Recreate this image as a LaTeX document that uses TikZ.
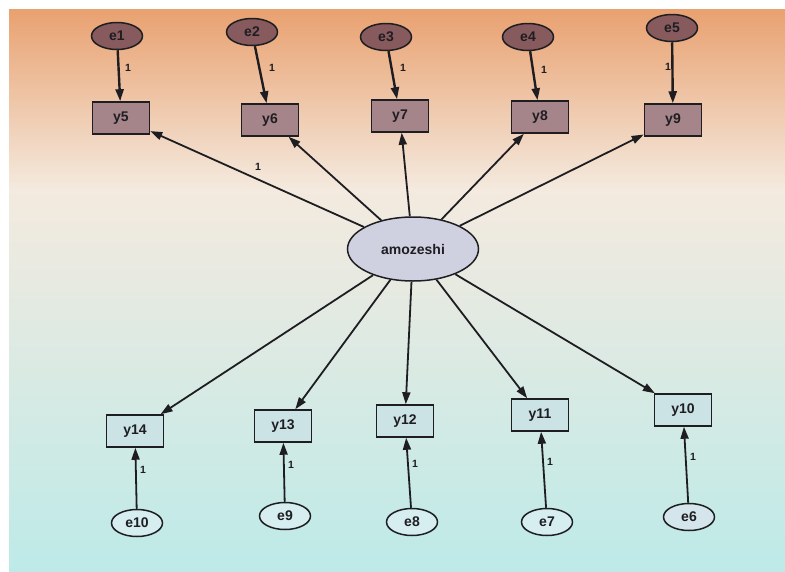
\documentclass[tikz,border=0pt]{standalone}
\usepackage{fontspec}
\setmainfont{Liberation Sans}
\usetikzlibrary{arrows.meta,shapes.geometric}
\definecolor{bgtop}{HTML}{E9A170}
\definecolor{bgmid}{HTML}{F4EADF}
\definecolor{bgbot}{HTML}{BDEAE8}
\definecolor{etop}{HTML}{875A5E}
\definecolor{ytop}{HTML}{A6858A}
\definecolor{latent}{HTML}{CFD0E0}
\definecolor{ybot}{HTML}{CCE3E6}
\definecolor{ebot}{HTML}{D6EEF0}
\definecolor{ink}{HTML}{1E1E22}
\tikzset{
  obsbox/.style={draw=ink, line width=1.5pt, minimum width=57pt, minimum height=32pt, inner sep=0pt, font=\bfseries\fontsize{14}{14}\selectfont, text=ink},
  errell/.style={ellipse, draw=ink, line width=1.5pt, minimum width=51pt, minimum height=27pt, inner sep=0pt, font=\bfseries\fontsize{14}{14}\selectfont, text=ink},
  topbox/.style={obsbox, fill=ytop},
  botbox/.style={obsbox, fill=ybot},
  topell/.style={errell, fill=etop},
  botell/.style={errell, fill=ebot},
  path/.style={draw=ink, line width=1.8pt, -{Triangle[length=12pt,width=8pt]}},
  errpath/.style={path, line width=2.4pt},
  one/.style={font=\bfseries\fontsize{10.5}{10.5}\selectfont, text=ink, inner sep=0pt}
}
\begin{document}
\begin{tikzpicture}[x=1pt,y=-1pt]
\useasboundingbox (0,0) rectangle (785,571);
\fill[white] (0,0) rectangle (785,571);
\shade[top color=bgtop, bottom color=bgmid] (9,9) rectangle (785,190);
\shade[top color=bgmid, bottom color=bgbot] (9,190) rectangle (785,571);

% latent
\node[ellipse, draw=ink, line width=1.5pt, fill=latent, minimum width=131pt, minimum height=64pt, inner sep=0pt, font=\bfseries\fontsize{14}{14}\selectfont, text=ink] (am) at (413,249) {amozeshi};

% top indicators
\node[topbox] (y5) at (121,118) {y5};
\node[topbox] (y6) at (270,120) {y6};
\node[topbox] (y7) at (400,116) {y7};
\node[topbox] (y8) at (540,117) {y8};
\node[topbox] (y9) at (673,120) {y9};
\node[topell] (e1) at (117,36) {e1};
\node[topell] (e2) at (252,32) {e2};
\node[topell] (e3) at (386,37) {e3};
\node[topell] (e4) at (528,37) {e4};
\node[topell] (e5) at (672,28) {e5};

% bottom indicators
\node[botbox] (y14) at (135,431) {y14};
\node[botbox] (y13) at (283,426) {y13};
\node[botbox] (y12) at (405,421) {y12};
\node[botbox] (y11) at (540,415) {y11};
\node[botbox] (y10) at (683,410) {y10};
\node[botell] (e10) at (137,523) {e10};
\node[botell] (e9) at (285,516) {e9};
\node[botell] (e8) at (412,522) {e8};
\node[botell] (e7) at (547,522) {e7};
\node[botell, fill=ebot!70!latent] (e6) at (689,517) {e6};

% loadings
\foreach \y in {y5,y6,y7,y8,y9,y10,y11,y12,y13,y14}
  \draw[path] (am) -- (\y);

% errors
\draw[errpath] (e1) -- (y5);
\draw[errpath] (e2) -- (y6);
\draw[errpath] (e3) -- (y7);
\draw[errpath] (e4) -- (y8);
\draw[errpath] (e5) -- (y9);
\draw[path] (e10) -- (y14);
\draw[path] (e9) -- (y13);
\draw[path] (e8) -- (y12);
\draw[path] (e7) -- (y11);
\draw[path] (e6) -- (y10);

% labels
\node[one] (l0) at (258,167) {1};
\node[one] (l1) at (128,68) {1};
\node[one] (l2) at (272,68) {1};
\node[one] (l3) at (403,68) {1};
\node[one] (l4) at (544,70) {1};
\node[one] (l5) at (668,67) {1};
\node[one] (l6) at (143,470) {1};
\node[one] (l7) at (291,465) {1};
\node[one] (l8) at (415,464) {1};
\node[one] (l9) at (550,462) {1};
\node[one] (l10) at (693,457) {1};
\end{tikzpicture}
\end{document}
